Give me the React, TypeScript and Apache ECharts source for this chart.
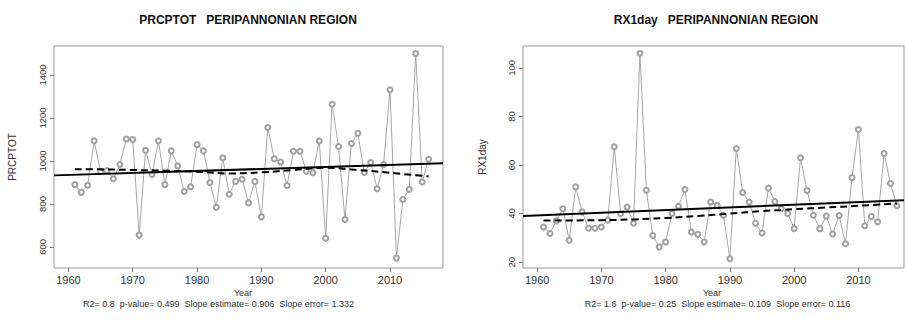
import React, { useEffect, useRef } from "react";
import * as echarts from "echarts";

const years: number[] = [];
for (let y = 1961; y <= 2016; y++) years.push(y);

const prcptot = [
  890, 854, 887, 1094, 950, 955, 917, 984, 1102, 1100,
  655, 1050, 937, 1094, 890, 1047, 977, 858, 880, 1076,
  1047, 900, 785, 1015, 845, 905, 915, 805, 905, 740,
  1156, 1010, 995, 886, 1045, 1045, 952, 945, 1093, 640,
  1264, 1067, 728, 1081, 1129, 946, 993, 871, 983, 1331,
  548, 821, 868, 1500, 902, 1008,
];

const rx1day = [
  34.5, 31.8, 37, 42, 29, 51, 40.7, 34, 34, 34.5,
  37.3, 67.5, 40, 42.7, 36, 106, 49.6, 31, 26.3, 28.3,
  40, 43, 49.9, 32.4, 31.5, 28.3, 44.8, 43.4, 39.3, 21.4,
  66.8, 48.7, 44.8, 36, 32, 50.5, 45, 42, 40, 33.8,
  63, 49.5, 39.3, 33.8, 39, 31.6, 39.2, 27.6, 54.8, 74.6,
  35, 38.8, 36.6, 64.7, 52.4, 43.2,
];

// linear trend endpoints [year, value]
const prcTrendYears = [1957.76, 2018.24];
const prcTrendVals = [933, 989];
const rxTrendYears = [1957.8, 2017.1];
const rxTrendVals = [39, 45.5];

// smoothed (dashed) curves
const prcSmoothYears = [1961, 1965, 1970, 1975, 1980, 1985, 1990, 1995, 2000, 2005, 2010, 2016];
const prcSmoothVals = [962, 961, 958, 955, 950, 942, 947, 958, 968, 958, 945, 928];
const rxSmoothYears = [1961, 1965, 1970, 1975, 1980, 1985, 1990, 1995, 2000, 2005, 2010, 2016];
const rxSmoothVals = [37.2, 37.2, 37.3, 37.6, 38.2, 39, 40, 41, 41.8, 42.5, 43.2, 44.2];

const xTicks = [1960, 1970, 1980, 1990, 2000, 2010];
const prcTicks = [600, 800, 1000, 1200, 1400];
const rxTicks = [20, 40, 60, 80, 100];

const titles = ["PRCPTOT   PERIPANNONIAN REGION", "RX1day   PERIPANNONIAN REGION"];
const yNames = ["PRCPTOT", "RX1day"];
const stats = [
  "R2= 0.8  p-value= 0.499  Slope estimate= 0.906  Slope error= 1.332",
  "R2= 1.6  p-value= 0.25  Slope estimate= 0.109  Slope error= 0.116",
];

const FONT = "'Liberation Sans', Arial, sans-serif";

export default function App() {
  const ref = useRef<HTMLDivElement>(null);
  useEffect(() => {
    if (!ref.current) return;
    const chart = echarts.init(ref.current, undefined, { renderer: "svg" });
    const grids = [
      { left: 54, top: 46, width: 389, height: 222 },
      { left: 523, top: 46, width: 381, height: 222 },
    ];
    const xRanges = [
      [1957.76, 2018.24],
      [1957.8, 2017.1],
    ];
    const yRanges = [
      [502, 1535],
      [17.6, 109],
    ];
    const yTicksAll = [prcTicks, rxTicks];
    const nameGaps = [37, 36];
    const plain = (v: number) => String(v);

    const mk = (i: number) => ({
      type: "value",
      gridIndex: i,
      min: xRanges[i][0],
      max: xRanges[i][1],
      axisLine: { show: false },
      splitLine: { show: false },
      axisTick: { show: true, length: 4, customValues: xTicks, lineStyle: { color: "#777", width: 1 } },
      axisLabel: { customValues: xTicks, formatter: plain, fontSize: 11, color: "#333", fontFamily: FONT, margin: 6 },
    });
    const my = (i: number) => ({
      type: "value",
      gridIndex: i,
      min: yRanges[i][0],
      max: yRanges[i][1],
      name: yNames[i],
      nameLocation: "middle",
      nameGap: nameGaps[i],
      nameTextStyle: { fontSize: 10, color: "#333", fontFamily: FONT },
      axisLine: { show: false },
      splitLine: { show: false },
      axisTick: { show: true, length: 4, customValues: yTicksAll[i], lineStyle: { color: "#777", width: 1 } },
      axisLabel: { customValues: yTicksAll[i], formatter: plain, rotate: 90, fontSize: 9.5, color: "#333", fontFamily: FONT, margin: 7 },
    });

    const pointSeries = (i: number, vals: number[]) => ({
      type: "line",
      xAxisIndex: i,
      yAxisIndex: i,
      data: years.map((y, k) => [y, vals[k]]),
      symbol: "emptyCircle",
      symbolSize: 5,
      showSymbol: true,
      showAllSymbol: true,
      lineStyle: { color: "#909090", width: 0.8 },
      itemStyle: { color: "#a0a0a0", borderColor: "#a0a0a0", borderWidth: 0.7 },
      z: 2,
    });
    const lineSeries = (i: number, xs: number[], vs: number[], dashed: boolean) => ({
      type: "line",
      xAxisIndex: i,
      yAxisIndex: i,
      data: xs.map((x, k) => [x, vs[k]]),
      symbol: "none",
      smooth: dashed ? 0.4 : false,
      lineStyle: { color: "#000", width: 2, type: dashed ? [7, 4] : "solid" },
      z: 3,
    });

    chart.setOption({
      animation: false,
      backgroundColor: "#fff",
      grid: grids.map((g) => ({ ...g, show: true, borderColor: "#999", borderWidth: 1, backgroundColor: "transparent" })),
      xAxis: [mk(0), mk(1)],
      yAxis: [my(0), my(1)],
      series: [
        pointSeries(0, prcptot),
        lineSeries(0, prcTrendYears, prcTrendVals, false),
        lineSeries(0, prcSmoothYears, prcSmoothVals, true),
        pointSeries(1, rx1day),
        lineSeries(1, rxTrendYears, rxTrendVals, false),
        lineSeries(1, rxSmoothYears, rxSmoothVals, true),
      ],
      graphic: [
        { type: "text", x: 248, y: 20, style: { text: titles[0], font: `bold 12px ${FONT}`, fill: "#111", align: "center", verticalAlign: "middle" } },
        { type: "text", x: 716, y: 20, style: { text: titles[1], font: `bold 12px ${FONT}`, fill: "#111", align: "center", verticalAlign: "middle" } },
        { type: "text", x: 243, y: 292.5, style: { text: "Year", font: `9px ${FONT}`, fill: "#333", align: "center", verticalAlign: "middle" } },
        { type: "text", x: 712, y: 292.5, style: { text: "Year", font: `9px ${FONT}`, fill: "#333", align: "center", verticalAlign: "middle" } },
        { type: "text", x: 218.5, y: 304, style: { text: stats[0], font: `9px ${FONT}`, fill: "#333", align: "center", verticalAlign: "middle" } },
        { type: "text", x: 717.5, y: 304, style: { text: stats[1], font: `9px ${FONT}`, fill: "#333", align: "center", verticalAlign: "middle" } },
      ],
    });
    return () => chart.dispose();
  }, []);
  return <div ref={ref} style={{ position: "fixed", left: 0, top: 0, width: 905, height: 325 }} />;
}
